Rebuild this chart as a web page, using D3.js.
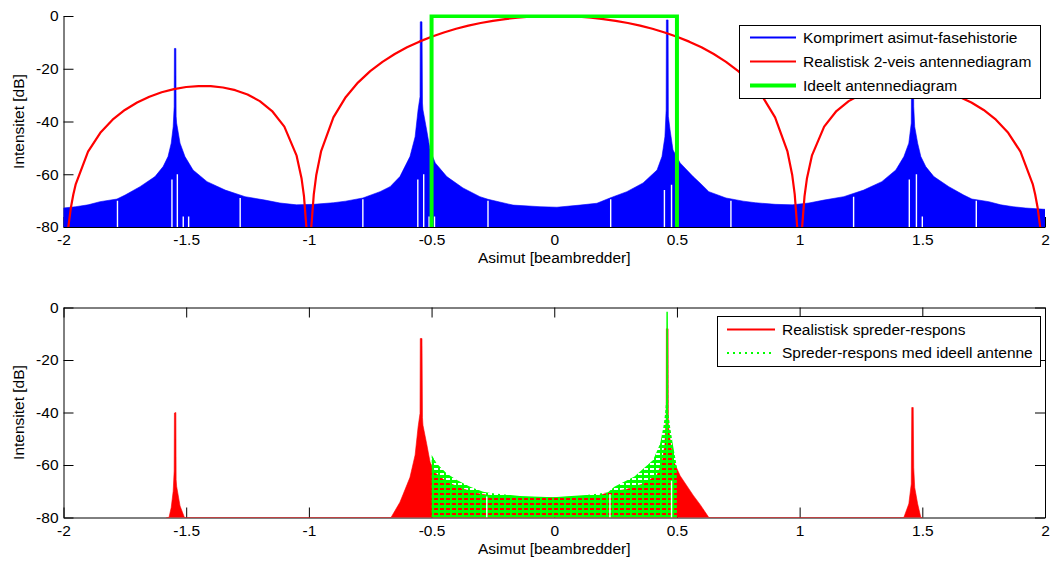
<!DOCTYPE html>
<html><head><meta charset="utf-8">
<script src="https://cdn.jsdelivr.net/npm/d3@7"></script>
<style>
body{margin:0;background:#fff}
svg text{font-family:"Liberation Sans",Arial,Helvetica,sans-serif;font-size:15.5px;fill:#000}
</style>
</head><body>
<svg id="c" width="1053" height="561"></svg>
<script>
// ---------- tick labels ----------
const xTicks = [-2,-1.5,-1,-0.5,0,0.5,1,1.5,2];
const xTickLabels = ["-2","-1.5","-1","-0.5","0","0.5","1","1.5","2"];
const yTicks = [0,-20,-40,-60,-80];
const yTickLabels = ["0","-20","-40","-60","-80"];

// ---------- top: compressed azimuth phase history (upper envelope, dB) ----------
const phaseX = [-2.000,-1.950,-1.900,-1.851,-1.782,-1.749,-1.688,-1.627,-1.594,-1.574,-1.561,-1.553,-1.549,-1.548,-1.542,-1.541,-1.539,-1.525,-1.505,-1.472,-1.415,-1.341,-1.260,-1.179,-1.118,-1.050,-0.980,-0.900,-0.850,-0.780,-0.710,-0.669,-0.629,-0.588,-0.567,-0.555,-0.547,-0.546,-0.539,-0.537,-0.535,-0.520,-0.506,-0.485,-0.438,-0.372,-0.303,-0.270,-0.168,-0.058,0.011,0.105,0.174,0.227,0.296,0.362,0.419,0.439,0.451,0.456,0.457,0.464,0.465,0.472,0.484,0.513,0.566,0.594,0.630,0.700,0.770,0.820,0.900,0.970,1.038,1.099,1.180,1.261,1.335,1.392,1.425,1.445,1.455,1.457,1.463,1.465,1.469,1.481,1.494,1.514,1.547,1.608,1.669,1.702,1.771,1.820,1.870,1.920,2.000];
const phaseDb = [-72.8,-72.3,-71.6,-70.4,-69.4,-67.9,-64.7,-60.9,-57.1,-53.3,-48.2,-42.0,-34.4,-12.3,-12.3,-38.0,-40.6,-48.2,-53.3,-58.4,-62.8,-66.0,-68.5,-69.8,-70.9,-71.6,-71.4,-70.8,-70.2,-69.0,-66.6,-64.7,-60.9,-53.3,-45.8,-35.6,-30.6,-2.2,-2.2,-33.0,-35.6,-43.2,-50.8,-55.7,-60.9,-65.2,-68.5,-69.5,-71.7,-72.3,-72.5,-71.7,-71.0,-69.0,-66.6,-63.3,-58.4,-53.3,-45.8,-35.6,-1.5,-1.5,-38.0,-43.2,-50.8,-55.7,-60.9,-63.3,-66.6,-69.0,-70.2,-70.8,-71.4,-71.6,-70.9,-69.8,-68.5,-66.0,-62.8,-58.4,-53.3,-48.2,-40.6,-11.5,-11.5,-34.4,-42.0,-48.2,-53.3,-57.1,-60.9,-64.7,-67.9,-69.4,-70.4,-71.6,-72.3,-72.8,-73.3];
// thin white gaps inside the dense phase-history trace
const phaseGapX = [-1.780,-1.558,-1.536,-1.512,-1.490,-1.280,-0.780,-0.556,-0.532,-0.510,-0.488,-0.270,0.230,0.449,0.478,0.500,0.720,1.220,1.447,1.476,1.500,1.720];
const phaseGapDb = [-70.0,-62.0,-60.0,-76.0,-76.0,-69.0,-69.5,-62.0,-60.0,-76.0,-76.0,-70.0,-69.5,-66.0,-64.0,-76.0,-70.0,-68.5,-62.0,-60.0,-76.0,-70.0];

// ---------- top: realistic 2-way antenna pattern ----------
const antX = [-2.00,-1.99,-1.98,-1.97,-1.96,-1.95,-1.90,-1.85,-1.80,-1.75,-1.70,-1.65,-1.60,-1.55,-1.50,-1.45,-1.40,-1.35,-1.30,-1.25,-1.20,-1.15,-1.10,-1.05,-1.03,-1.02,-1.01,-1.00,-0.99,-0.98,-0.97,-0.95,-0.90,-0.85,-0.80,-0.75,-0.70,-0.65,-0.60,-0.55,-0.50,-0.45,-0.40,-0.35,-0.30,-0.25,-0.20,-0.15,-0.10,-0.05,0.00,0.05,0.10,0.15,0.20,0.25,0.30,0.35,0.40,0.45,0.50,0.55,0.60,0.65,0.70,0.75,0.80,0.85,0.90,0.95,0.97,0.98,0.99,1.00,1.01,1.02,1.03,1.05,1.10,1.15,1.20,1.25,1.30,1.35,1.40,1.45,1.50,1.55,1.60,1.65,1.70,1.75,1.80,1.85,1.90,1.95,1.96,1.97,1.98,1.99,2.00];
const antDb = [-130,-91.96,-79.8,-72.72,-67.65,-63.71,-51.44,-44.29,-39.33,-35.63,-32.79,-30.59,-28.92,-27.71,-26.93,-26.56,-26.60,-27.10,-28.13,-29.78,-32.28,-36.03,-41.94,-52.96,-61.5,-68.3,-80.2,-130,-79.8,-67.6,-60.4,-51.22,-38.46,-30.78,-25.24,-20.91,-17.37,-14.41,-11.88,-9.72,-7.85,-6.23,-4.84,-3.65,-2.65,-1.82,-1.16,-0.65,-0.29,-0.07,0,-0.07,-0.29,-0.65,-1.16,-1.82,-2.65,-3.65,-4.84,-6.23,-7.85,-9.72,-11.88,-14.41,-17.37,-20.91,-25.24,-30.78,-38.46,-51.22,-60.4,-67.6,-79.8,-130,-80.2,-68.3,-61.5,-52.96,-41.94,-36.03,-32.28,-29.78,-28.13,-27.10,-26.60,-26.56,-26.93,-27.71,-28.92,-30.59,-32.79,-35.63,-39.33,-44.29,-51.44,-63.71,-67.65,-72.72,-79.8,-91.96,-130];

// ---------- top: ideal antenna pattern ----------
const idealX = [-0.5,-0.5,0.5,0.5];
const idealDb = [-130,0,0,-130];

// ---------- bottom: realistic scatterer response (upper envelope) ----------
const realX = [-1.580,-1.574,-1.561,-1.553,-1.549,-1.548,-1.542,-1.541,-1.539,-1.525,-1.505,-1.500,-0.680,-0.669,-0.629,-0.588,-0.567,-0.555,-0.547,-0.546,-0.539,-0.537,-0.535,-0.520,-0.506,-0.485,-0.438,-0.372,-0.303,-0.270,-0.168,-0.058,0.011,0.105,0.174,0.227,0.296,0.362,0.419,0.439,0.451,0.456,0.457,0.464,0.465,0.472,0.484,0.513,0.566,0.594,0.630,0.640,1.420,1.425,1.445,1.455,1.457,1.463,1.465,1.469,1.481,1.494,1.500];
const realDb = [-86,-81.6,-76.2,-70.0,-62.3,-40.2,-40.0,-65.5,-68.1,-75.6,-80.5,-86,-86,-80.6,-74.2,-64.7,-56.2,-45.6,-40.3,-11.8,-11.8,-42.0,-44.9,-51.9,-58.9,-63.0,-66.5,-69.1,-71.0,-71.5,-72.5,-72.4,-72.5,-72.0,-71.8,-70.4,-69.2,-67.2,-63.8,-59.3,-52.1,-42.1,-8.1,-8.1,-44.7,-50.2,-58.1,-64.1,-71.5,-75.0,-80.0,-86,-86,-79.9,-74.8,-67.2,-38.1,-38.1,-61.0,-68.6,-74.8,-80.0,-86];

// ---------- bottom: scatterer response with ideal antenna (dotted) ----------
const idealRespX = [-0.500,-0.4995,-0.479,-0.438,-0.397,-0.343,-0.290,-0.260,-0.140,-0.005,0.130,0.218,0.245,0.327,0.403,0.432,0.445,0.452,0.456,0.457,0.463,0.465,0.472,0.485,0.4995,0.500];
const idealRespDb = [-90,-56.2,-59.4,-63.2,-65.7,-68.3,-70.2,-70.7,-71.8,-72.3,-71.4,-70.5,-68.3,-64.4,-58.1,-51.7,-45.4,-40.2,-35.2,-1.6,-1.6,-40.0,-45.4,-53.0,-60.6,-90];
const respGapX = [-0.275,0.227,0.478];
const respGapDb = [-72.0,-71.0,-66.0];

// ---------- legends ----------
const topLegend = ["Komprimert asimut-fasehistorie","Realistisk 2-veis antennediagram","Ideelt antennediagram"];
const botLegend = ["Realistisk spreder-respons","Spreder-respons med ideell antenne"];
const xTitle = "Asimut [beambredder]";
const yTitle = "Intensitet [dB]";

// ================= drawing =================
const svg = d3.select("#c");
const L = 63.5, R = 1045;
const T1 = 16, B1 = 227, T2 = 307.5, B2 = 517.5;
const BLUE = "#0000ff", RED = "#ff0000", GREEN = "#00ff00";

const x = d3.scaleLinear().domain([-2,2]).range([L,R]);
const y1 = d3.scaleLinear().domain([-80,0]).range([B1,T1]);
const y2 = d3.scaleLinear().domain([-80,0]).range([B2,T2]);

const defs = svg.append("defs");
defs.append("clipPath").attr("id","clip1").append("rect")
  .attr("x",L).attr("y",T1-1.5).attr("width",R-L).attr("height",B1-T1+1.5);
defs.append("clipPath").attr("id","clip2").append("rect")
  .attr("x",L).attr("y",T2).attr("width",R-L).attr("height",B2-T2);
const pat = defs.append("pattern").attr("id","gdots").attr("patternUnits","userSpaceOnUse")
  .attr("width",6).attr("height",5);
pat.append("rect").attr("x",0).attr("y",0).attr("width",6).attr("height",3).attr("fill",GREEN);
pat.append("rect").attr("x",0).attr("y",3).attr("width",2).attr("height",2).attr("fill",GREEN);

function styleAxis(g){
  g.attr("font-family",null).attr("font-size",null);
  g.selectAll("path,line").attr("stroke","#000").attr("stroke-width",1);
  g.selectAll("text").attr("fill","#000");
}

function drawAxes(yScale, top, bottom, boxed){
  const gx = svg.append("g").attr("transform",`translate(0,${bottom})`)
    .call(d3.axisBottom(x).tickValues(xTicks).tickFormat((d,i)=>xTickLabels[i])
      .tickSizeInner(-10).tickSizeOuter(0).tickPadding(7));
  styleAxis(gx);
  const gy = svg.append("g").attr("transform",`translate(${L},0)`)
    .call(d3.axisLeft(yScale).tickValues(yTicks).tickFormat((d,i)=>yTickLabels[i])
      .tickSizeInner(-10).tickSizeOuter(0).tickPadding(5));
  styleAxis(gy);
  if(boxed){
    const gt = svg.append("g").attr("transform",`translate(0,${top})`)
      .call(d3.axisTop(x).tickValues(xTicks).tickFormat("").tickSizeInner(-10).tickSizeOuter(0));
    styleAxis(gt);
    const gr = svg.append("g").attr("transform",`translate(${R},0)`)
      .call(d3.axisRight(yScale).tickValues(yTicks).tickFormat("").tickSizeInner(-10).tickSizeOuter(0));
    styleAxis(gr);
  }
  svg.append("text").attr("x",(L+R)/2).attr("y",bottom+31).attr("dy","0.35em")
    .attr("text-anchor","middle").text(xTitle);
  svg.append("text").attr("transform",`translate(19,${(top+bottom)/2}) rotate(-90)`)
    .attr("dy","0.35em").attr("text-anchor","middle").text(yTitle);
}

// ---- top panel ----
drawAxes(y1, T1, B1, false);
const p1 = svg.append("g").attr("clip-path","url(#clip1)");
const phaseData = phaseX.map((v,i)=>[v,phaseDb[i]]);
p1.append("path").datum(phaseData)
  .attr("d", d3.area().x(d=>x(d[0])).y0(y1(-85)).y1(d=>y1(d[1])))
  .attr("fill",BLUE).attr("stroke",BLUE).attr("stroke-width",0.6);
p1.selectAll("line.gap").data(phaseGapX).join("line").attr("class","gap")
  .attr("x1",d=>x(d)).attr("x2",d=>x(d))
  .attr("y1",(d,i)=>y1(phaseGapDb[i])).attr("y2",y1(-80))
  .attr("stroke","#fff").attr("stroke-width",1.4);
p1.append("path").datum(antX.map((v,i)=>[v,antDb[i]]))
  .attr("d", d3.line().x(d=>x(d[0])).y(d=>y1(d[1])))
  .attr("fill","none").attr("stroke",RED).attr("stroke-width",2.2).attr("stroke-linejoin","round");
p1.append("path").datum(idealX.map((v,i)=>[v,idealDb[i]]))
  .attr("d", d3.line().x(d=>x(d[0])).y(d=>y1(d[1])))
  .attr("fill","none").attr("stroke",GREEN).attr("stroke-width",4);

// top legend
const lg1 = svg.append("g");
lg1.append("rect").attr("x",739.5).attr("y",25.5).attr("width",301).attr("height",73)
  .attr("fill","#fff").attr("stroke","#000").attr("stroke-width",1);
const lgCols = [BLUE,RED,GREEN], lgW = [2,2,4];
topLegend.forEach((t,i)=>{
  const yy = 37.5 + i*24;
  lg1.append("line").attr("x1",750).attr("x2",796).attr("y1",yy).attr("y2",yy)
    .attr("stroke",lgCols[i]).attr("stroke-width",lgW[i]);
  lg1.append("text").attr("x",803).attr("y",yy).attr("dy","0.35em").text(t);
});

// ---- bottom panel ----
drawAxes(y2, T2, B2, true);
const p2 = svg.append("g").attr("clip-path","url(#clip2)");
p2.append("path").datum(realX.map((v,i)=>[v,realDb[i]]))
  .attr("d", d3.area().x(d=>x(d[0])).y0(y2(-80)).y1(d=>y2(d[1])))
  .attr("fill",RED).attr("stroke",RED).attr("stroke-width",0.6);
p2.append("path").datum(idealRespX.map((v,i)=>[v,idealRespDb[i]]))
  .attr("d", d3.area().x(d=>x(d[0])).y0(y2(-80)).y1(d=>y2(d[1])))
  .attr("fill","url(#gdots)");
p2.selectAll("line.gap").data(respGapX).join("line").attr("class","gap")
  .attr("x1",d=>x(d)).attr("x2",d=>x(d))
  .attr("y1",(d,i)=>y2(respGapDb[i])).attr("y2",y2(-80))
  .attr("stroke","#fff").attr("stroke-width",1.4);

// bottom legend
const lg2 = svg.append("g");
lg2.append("rect").attr("x",717.5).attr("y",316.5).attr("width",323).attr("height",50)
  .attr("fill","#fff").attr("stroke","#000").attr("stroke-width",1);
botLegend.forEach((t,i)=>{
  const yy = 329.5 + i*23.5;
  const ln = lg2.append("line").attr("x1",727).attr("x2",775).attr("y1",yy).attr("y2",yy)
    .attr("stroke",i===0?RED:GREEN).attr("stroke-width",2);
  if(i===1) ln.attr("stroke-dasharray","2,4");
  lg2.append("text").attr("x",782).attr("y",yy).attr("dy","0.35em").text(t);
});
</script>
</body></html>
